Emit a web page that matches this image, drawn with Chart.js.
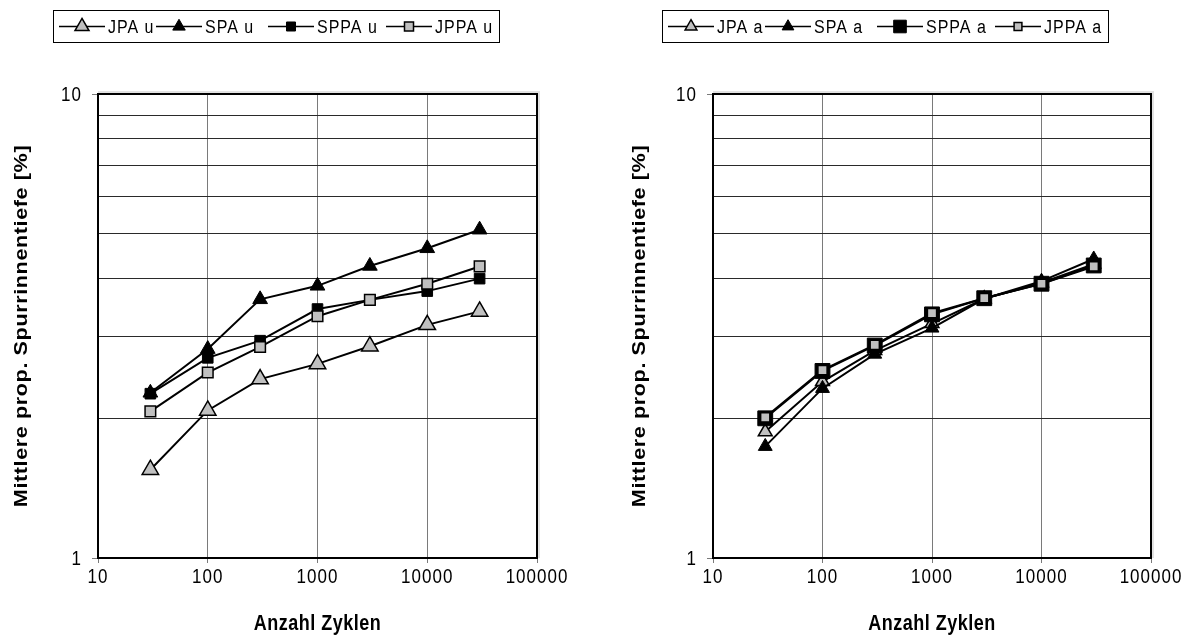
<!DOCTYPE html>
<html lang="de">
<head>
<meta charset="UTF-8">
<title>Mittlere prop. Spurrinnentiefe</title>
<script src="https://cdn.jsdelivr.net/npm/chart.js"></script>
<style>
  body { margin: 0; background: #fff; }
  #wrap { position: relative; width: 1201px; height: 639px; }
  canvas { position: absolute; top: 0; }
  #chartU { left: 0; }
  #chartA { left: 600px; }
</style>
</head>
<body>
<div id="wrap">
  <canvas id="chartU" width="600" height="639"></canvas>
  <canvas id="chartA" width="601" height="639"></canvas>
</div>
<script>
// load cycles (x) and mean relative rut depth in % (y)
const cycles = [30, 100, 300, 1000, 3000, 10000, 30000];
const xTicks = [10, 100, 1000, 10000, 100000];
const yTicks = [1, 2, 3, 4, 5, 6, 7, 8, 9, 10];
const yLabeled = [1, 10];

// left panel ("u")
const jpaU  = [1.55, 2.08, 2.43, 2.62, 2.86, 3.18, 3.40];
const spaU  = [2.27, 2.82, 3.61, 3.86, 4.26, 4.65, 5.10];
const sppaU = [2.26, 2.70, 2.94, 3.44, 3.60, 3.76, 4.00];
const jppaU = [2.07, 2.51, 2.85, 3.32, 3.60, 3.90, 4.25];

// right panel ("a")
const jpaA  = [1.87, 2.40, 2.80, 3.20, 3.62, 3.92, 4.30];
const spaA  = [1.74, 2.32, 2.75, 3.13, 3.62, 3.95, 4.41];
const sppaA = [2.00, 2.53, 2.87, 3.35, 3.63, 3.90, 4.27];
const jppaA = [2.01, 2.54, 2.88, 3.37, 3.63, 3.90, 4.25];

const namesU = ['JPA u', 'SPA u', 'SPPA u', 'JPPA u'];
const namesA = ['JPA a', 'SPA a', 'SPPA a', 'JPPA a'];
const yTitle = 'Mittlere prop. Spurrinnentiefe [%]';
const xTitle = 'Anzahl Zyklen';

const GRAY = '#c0c0c0';
const FAMILY = '"Liberation Sans", Arial, sans-serif';

function series(label, values, shape, radius, fill, bw, order) {
  return {
    label: label,
    data: cycles.map((c, i) => ({ x: c, y: values[i] })),
    borderColor: '#000',
    borderWidth: 2,
    pointStyle: shape,
    pointRadius: radius,
    pointHoverRadius: radius,
    pointBackgroundColor: fill,
    pointBorderColor: '#000',
    pointBorderWidth: bw,
    order: order
  };
}

// text is a little taller than wide, as in the old spreadsheet export
function text(ctx, str, x, y, font, align, sx, sy, spacing) {
  ctx.save();
  ctx.translate(x, y);
  ctx.scale(sx, sy);
  ctx.font = font;
  ctx.letterSpacing = spacing;
  ctx.textAlign = align;
  ctx.textBaseline = 'alphabetic';
  ctx.fillStyle = '#000';
  ctx.fillText(str, 0, 0);
  ctx.restore();
}

// frame, tick labels, legend and axis titles
const decor = {
  id: 'decor',
  beforeDatasetsDraw(chart) {
    const { ctx, chartArea: a } = chart;
    ctx.save();
    ctx.strokeStyle = '#e2e2e2';
    ctx.lineWidth = 2;
    ctx.beginPath();
    ctx.moveTo(a.left, a.top - 2);
    ctx.lineTo(a.right + 2, a.top - 2);
    ctx.lineTo(a.right + 2, a.bottom);
    ctx.stroke();
    ctx.strokeStyle = '#000';
    ctx.beginPath();
    ctx.moveTo(a.left, a.top);
    ctx.lineTo(a.right, a.top);
    ctx.lineTo(a.right, a.bottom + 1);
    ctx.stroke();
    ctx.restore();
  },
  afterDraw(chart, args, opts) {
    const { ctx, chartArea: a, scales } = chart;
    const tickFont = '17px ' + FAMILY;

    // tick labels from the scales
    scales.x.ticks.forEach(t => {
      text(ctx, t.label, scales.x.getPixelForValue(t.value), 583, tickFont, 'center', 1, 1.2, '1px');
    });
    scales.y.ticks.forEach(t => {
      if (!t.label) return;
      const py = scales.y.getPixelForValue(t.value);
      text(ctx, t.label, a.left - 16, py + 7.3, tickFont, 'right', 1, 1.2, '1px');
    });

    // legend
    ctx.save();
    const [bx, by, bw, bh] = opts.box;
    ctx.strokeStyle = '#000';
    ctx.lineWidth = 1;
    ctx.strokeRect(bx + 0.5, by + 0.5, bw, bh);
    const cy = by + bh / 2 + 0.5;
    chart.data.datasets.forEach((ds, i) => {
      const lx = opts.items[i];
      ctx.strokeStyle = '#000';
      ctx.lineWidth = 1.5;
      ctx.beginPath();
      ctx.moveTo(lx, cy);
      ctx.lineTo(lx + 46, cy);
      ctx.stroke();
      ctx.fillStyle = ds.pointBackgroundColor;
      ctx.lineWidth = ds.pointBorderWidth;
      Chart.helpers.drawPoint(ctx, {
        pointStyle: ds.pointStyle,
        radius: ds.pointRadius * 0.85,
        borderWidth: ds.pointBorderWidth,
        rotation: 0
      }, lx + 23, cy);
      text(ctx, ds.label, lx + 49, cy + 6.5, '16px ' + FAMILY, 'left', 1, 1.15, '1px');
    });
    ctx.restore();

    // axis titles
    text(ctx, xTitle, (a.left + a.right) / 2, 630, 'bold 18px ' + FAMILY, 'center', 1, 1.2, '0.5px');
    ctx.save();
    ctx.translate(opts.yTitleX, (a.top + a.bottom) / 2);
    ctx.rotate(-Math.PI / 2);
    text(ctx, yTitle, 0, 6.5, 'bold 18px ' + FAMILY, 'center', 1.2, 1, '0.5px');
    ctx.restore();
  }
};

function makeChart(id, datasets, yWidth, padRight, decorOpts) {
  return new Chart(document.getElementById(id), {
    type: 'line',
    data: { datasets: datasets },
    plugins: [decor],
    options: {
      responsive: false,
      animation: false,
      events: [],
      layout: { padding: { left: 0, top: 94, right: padRight, bottom: 0 } },
      plugins: {
        legend: { display: false },
        tooltip: { enabled: false },
        decor: decorOpts
      },
      scales: {
        x: {
          type: 'logarithmic',
          min: 10,
          max: 100000,
          afterBuildTicks: s => { s.ticks = xTicks.map(v => ({ value: v })); },
          afterFit: s => { s.height = 81; },
          ticks: { display: false, autoSkip: false, callback: v => String(v) },
          grid: { color: '#7a7a7a', lineWidth: 1, tickLength: 5, tickColor: '#7a7a7a' },
          border: { color: '#000', width: 2 }
        },
        y: {
          type: 'logarithmic',
          min: 1,
          max: 10,
          afterBuildTicks: s => { s.ticks = yTicks.map(v => ({ value: v })); },
          afterFit: s => { s.width = yWidth; },
          ticks: {
            display: false,
            autoSkip: false,
            callback: v => (yLabeled.includes(v) ? String(v) : '')
          },
          grid: {
            color: '#2a2a2a',
            lineWidth: 1,
            tickLength: 6,
            tickColor: c => (yLabeled.includes(c.tick.value) ? '#7a7a7a' : 'rgba(0,0,0,0)')
          },
          border: { color: '#000', width: 2 }
        }
      }
    }
  });
}

makeChart('chartU', [
  series(namesU[0], jpaU,  'triangle', 9.5, GRAY,   1.5, 4),
  series(namesU[1], spaU,  'triangle', 8.5, '#000', 1,   3),
  series(namesU[2], sppaU, 'rect',     7.5, '#000', 1,   2),
  series(namesU[3], jppaU, 'rect',     7.5, GRAY,   1.5, 1)
], 98, 63, { box: [53, 10, 446, 32], items: [59, 156, 268, 386], yTitleX: 20 });

makeChart('chartA', [
  series(namesA[0], jpaA,  'triangle', 8,    GRAY,   1.5, 4),
  series(namesA[1], spaA,  'triangle', 8,    '#000', 1,   3),
  series(namesA[2], sppaA, 'rect',     10.5, '#000', 1,   2),
  series(namesA[3], jppaA, 'rect',     6.5,  GRAY,   1.5, 1)
], 113, 50, { box: [62, 10, 446, 32], items: [68, 165, 277, 395], yTitleX: 38 });
</script>
</body>
</html>
